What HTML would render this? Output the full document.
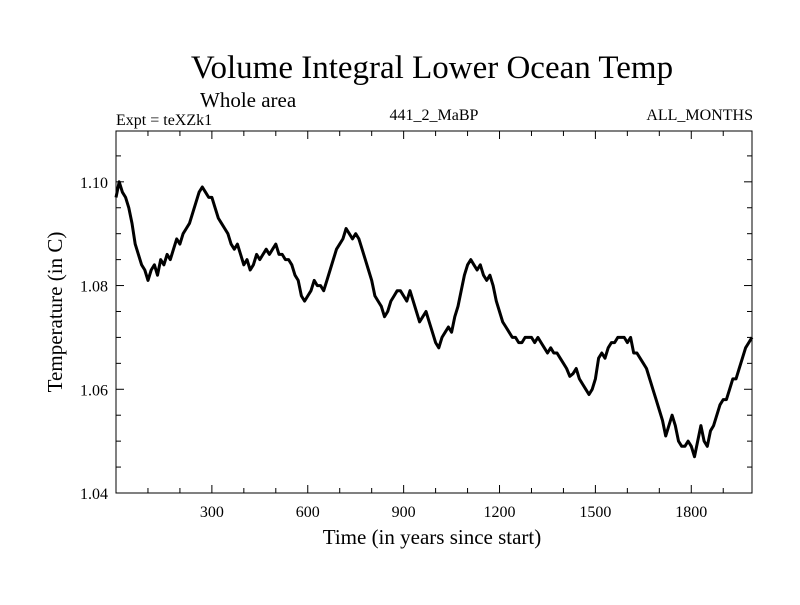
<!DOCTYPE html>
<html><head><meta charset="utf-8"><style>
body{margin:0;background:#fff;}
svg text{font-family:"Liberation Serif",serif;fill:#000;}
</style></head><body>
<svg id="chart" width="800" height="600">
<text x="432" y="78" font-size="33" text-anchor="middle">Volume Integral Lower Ocean Temp</text>
<text x="200" y="107" font-size="21">Whole area</text>
<text x="116" y="125" font-size="16">Expt = teXZk1</text>
<text x="434" y="120" font-size="16" text-anchor="middle">441_2_MaBP</text>
<text x="753" y="120" font-size="16" text-anchor="end">ALL_MONTHS</text>
<text x="432" y="544" font-size="21" text-anchor="middle">Time (in years since start)</text>
<text transform="translate(62,312) rotate(-90)" font-size="21" text-anchor="middle">Temperature (in C)</text>
<g id="axes"></g>
<path id="series" fill="none" stroke="#000" stroke-width="3" stroke-linejoin="round"/>
<rect x="116" y="131" width="636" height="362" fill="none" stroke="#000" stroke-width="1"/>
</svg>
<script>
const years=[];for(let y=0;y<=1990;y+=10)years.push(y);
const temps=[1.097,1.100,1.098,1.097,1.095,1.092,1.088,1.086,1.084,1.083,1.081,1.083,1.084,1.082,1.085,1.084,1.086,1.085,1.087,1.089,
1.088,1.090,1.091,1.092,1.094,1.096,1.098,1.099,1.098,1.097,1.097,1.095,1.093,1.092,1.091,1.090,1.088,1.087,1.088,1.086,
1.084,1.085,1.083,1.084,1.086,1.085,1.086,1.087,1.086,1.087,1.088,1.086,1.086,1.085,1.085,1.084,1.082,1.081,1.078,1.077,
1.078,1.079,1.081,1.080,1.080,1.079,1.081,1.083,1.085,1.087,1.088,1.089,1.091,1.090,1.089,1.090,1.089,1.087,1.085,1.083,
1.081,1.078,1.077,1.076,1.074,1.075,1.077,1.078,1.079,1.079,1.078,1.077,1.079,1.077,1.075,1.073,1.074,1.075,1.073,1.071,
1.069,1.068,1.070,1.071,1.072,1.071,1.074,1.076,1.079,1.082,1.084,1.085,1.084,1.083,1.084,1.082,1.081,1.082,1.080,1.077,
1.075,1.073,1.072,1.071,1.070,1.070,1.069,1.069,1.070,1.070,1.070,1.069,1.070,1.069,1.068,1.067,1.068,1.067,1.067,1.066,
1.065,1.064,1.0625,1.063,1.064,1.062,1.061,1.060,1.059,1.060,1.062,1.066,1.067,1.066,1.068,1.069,1.069,1.070,1.070,1.070,
1.069,1.070,1.067,1.067,1.066,1.065,1.064,1.062,1.060,1.058,1.056,1.054,1.051,1.053,1.055,1.053,1.050,1.049,1.049,1.050,
1.049,1.047,1.050,1.053,1.050,1.049,1.052,1.053,1.055,1.057,1.058,1.058,1.060,1.062,1.062,1.064,1.066,1.068,1.069,1.070];
const xTicks=[300,600,900,1200,1500,1800];
const yTicks=[1.04,1.06,1.08,1.10];
const yTickLabels=["1.04","1.06","1.08","1.10"];
const X0=116,X1=752,Y0=493,Y1=131,XMIN=0,XMAX=1990,YMIN=1.04,YMAX=1.1098;
const sx=v=>X0+(v-XMIN)/(XMAX-XMIN)*(X1-X0);
const sy=v=>Y0-(v-YMIN)/(YMAX-YMIN)*(Y0-Y1);
const ns="http://www.w3.org/2000/svg";
const ax=document.getElementById('axes');
function line(x1,y1,x2,y2,name){const l=document.createElementNS(ns,'line');l.setAttribute('x1',x1);l.setAttribute('y1',y1);l.setAttribute('x2',x2);l.setAttribute('y2',y2);l.setAttribute('stroke','#000');l.setAttribute('stroke-width','1');


ax.appendChild(l);}
function text(x,y,s,anchor,name){const t=document.createElementNS(ns,'text');t.setAttribute('x',x);t.setAttribute('y',y);t.setAttribute('font-size','16');t.setAttribute('text-anchor',anchor);t.textContent=s;


ax.appendChild(t);}
for(let v=100;v<XMAX;v+=100){const major=v%300===0;const L=major?8:5;const x=sx(v);
line(x,Y0,x,Y0-L,'x-tick');line(x,Y1,x,Y1+L,'x-tick');}
xTicks.forEach(v=>text(sx(v),517,String(v),'middle','x-tick-label'));
for(let i=0;i<=13;i++){const v=1.04+i*0.005;if(v>YMAX)break;const major=i%4===0;const L=major?8:5;const y=sy(v);
line(X0,y,X0+L,y,'y-tick');line(X1,y,X1-L,y,'y-tick');}
yTicks.forEach((v,i)=>text(108,sy(v)+6,yTickLabels[i],'end','y-tick-label'));
let d='';years.forEach((y,i)=>{d+=(i?'L':'M')+sx(y).toFixed(1)+','+sy(temps[i]).toFixed(1);});
document.getElementById('series').setAttribute('d',d);
</script>
</body></html>
